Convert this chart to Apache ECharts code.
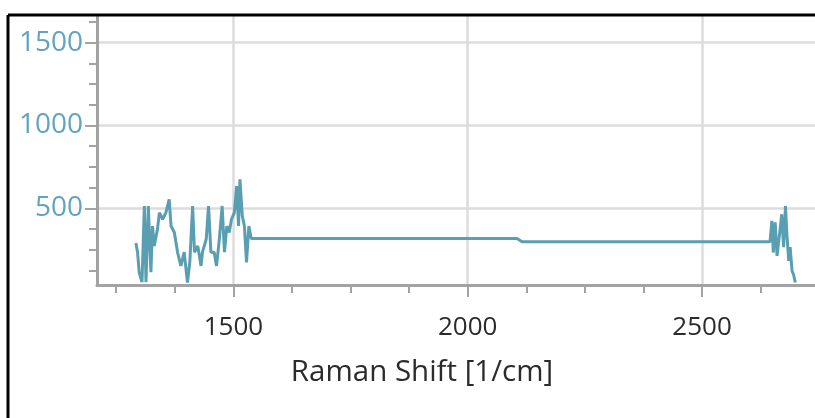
<!DOCTYPE html>
<html>
<head>
<meta charset="utf-8">
<script src="https://cdn.jsdelivr.net/npm/echarts@6/dist/echarts.min.js"></script>
<style>
  html, body { margin: 0; padding: 0; background: #ffffff; }
  #chart { width: 815px; height: 418px; }
</style>
</head>
<body>
<div id="chart"></div>
<script>
// Raman spectrum: shift (1/cm) and intensity
const ramanShift = [
  1292, 1295.5, 1299, 1305, 1310, 1313.5, 1318.5, 1324, 1327.5, 1331,
  1338, 1342, 1349, 1356, 1363, 1367, 1374, 1381, 1388, 1395,
  1402, 1407, 1413, 1417, 1424, 1431, 1434, 1442, 1447, 1452,
  1459, 1464, 1470, 1476, 1481, 1486, 1491, 1496, 1502, 1507,
  1511, 1514, 1519, 1523.5, 1528, 1533, 1536, 1538,
  2105, 2116, 2645,
  2649, 2652, 2656, 2660, 2667, 2670, 2674, 2678, 2681, 2685,
  2688, 2692, 2695, 2699
];
const intensity = [
  290, 235, 114, 54, 514, 54, 514, 114, 393, 273,
  373, 474, 434, 474, 554, 393, 354, 233, 152, 235,
  52, 174, 514, 235, 273, 152, 235, 313, 514, 235,
  235, 152, 313, 514, 235, 393, 354, 434, 474, 634,
  393, 675, 454, 393, 174, 393, 404, 318,
  318, 298, 298,
  424, 233, 415, 213, 385, 464, 265, 514, 343, 183,
  265, 122, 102, 52
];

// Axis extents and tick positions
const xRange = [1209, 2741];
const yRange = [37, 1661];
const xMajorTicks = [1500, 2000, 2500];
const xMinorTicks = [1250, 1375, 1625, 1750, 1875, 2125, 2250, 2375, 2625];
const yMajorTicks = [500, 1000, 1500];
const yMinorTicks = [125, 250, 375, 625, 750, 875, 1125, 1250, 1375, 1625];
const xAxisTitle = 'Raman Shift [1/cm]';

const FONT = '"Open Sans", "Noto Sans", sans-serif';
const AXIS_GRAY = '#a3a3a3';
const GRID_GRAY = '#dcdcdc';
const plain = v => String(v);

const points = ramanShift.map((x, i) => [x, intensity[i]]);

const chart = echarts.init(document.getElementById('chart'), null, { renderer: 'canvas' });

chart.setOption({
  animation: false,
  backgroundColor: '#ffffff',
  grid: { left: 97, top: 16, right: 0, bottom: 133, containLabel: false },
  xAxis: [
    {
      type: 'value', position: 'bottom',
      min: xRange[0], max: xRange[1],
      minInterval: 500, maxInterval: 500,
      axisLine: { show: true, lineStyle: { color: AXIS_GRAY, width: 3 } },
      axisTick: { show: true, customValues: xMajorTicks, length: 12, lineStyle: { color: AXIS_GRAY, width: 2 } },
      axisLabel: { show: true, customValues: xMajorTicks, formatter: plain, margin: 30, color: '#2b2b2b', fontFamily: FONT, fontSize: 26 },
      splitLine: { show: true, lineStyle: { color: GRID_GRAY, width: 2.5 } }
    },
    {
      type: 'value', position: 'bottom',
      min: xRange[0], max: xRange[1],
      axisLine: { show: false },
      axisTick: { show: true, customValues: xMinorTicks, length: 8, lineStyle: { color: AXIS_GRAY, width: 2 } },
      axisLabel: { show: false },
      splitLine: { show: false }
    }
  ],
  yAxis: [
    {
      type: 'value', position: 'left',
      min: yRange[0], max: yRange[1],
      minInterval: 500, maxInterval: 500,
      axisLine: { show: true, lineStyle: { color: AXIS_GRAY, width: 3 } },
      axisTick: { show: true, customValues: yMajorTicks, length: 12, lineStyle: { color: AXIS_GRAY, width: 2 } },
      axisLabel: { show: true, customValues: yMajorTicks, formatter: plain, margin: 14, color: '#62a3c1', fontFamily: FONT, fontSize: 28 },
      splitLine: { show: true, lineStyle: { color: GRID_GRAY, width: 2.5 } }
    },
    {
      type: 'value', position: 'left',
      min: yRange[0], max: yRange[1],
      axisLine: { show: false },
      axisTick: { show: true, customValues: yMinorTicks, length: 8, lineStyle: { color: AXIS_GRAY, width: 2 } },
      axisLabel: { show: false },
      splitLine: { show: false }
    }
  ],
  graphic: [
    // outer frame (left and top edges)
    { type: 'line', shape: { x1: 8, y1: 15, x2: 815, y2: 15 }, style: { stroke: '#000000', lineWidth: 3 }, z: 100 },
    { type: 'line', shape: { x1: 8, y1: 15, x2: 8, y2: 418 }, style: { stroke: '#000000', lineWidth: 3 }, z: 100 },
    {
      type: 'text',
      style: { text: xAxisTitle, x: 422, y: 373, textAlign: 'center', textVerticalAlign: 'middle',
               fill: '#2b2b2b', font: '29.5px "Open Sans", "Noto Sans", sans-serif' }
    }
  ],
  series: [
    {
      type: 'line',
      xAxisIndex: 0, yAxisIndex: 0,
      data: points,
      showSymbol: false,
      lineStyle: { color: '#5a9fb1', width: 3 },
      z: 5
    }
  ]
});
</script>
</body>
</html>
